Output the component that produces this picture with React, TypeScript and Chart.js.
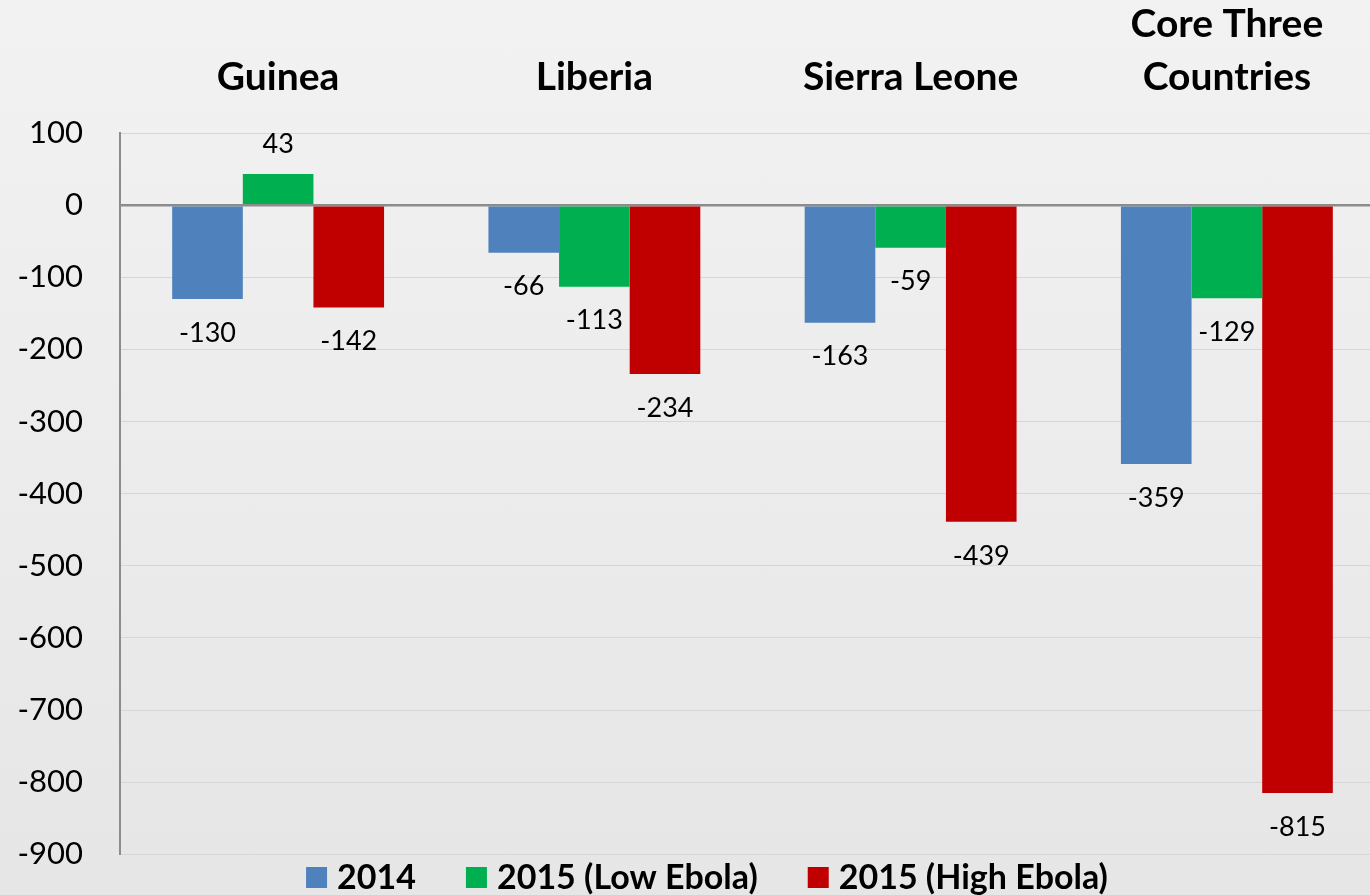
import React, { useEffect, useRef } from "react";
import { Chart, registerables } from "chart.js";

Chart.register(...registerables);

const categories: (string | string[])[] = ["Guinea", "Liberia", "Sierra Leone", ["Core Three", "Countries"]];
const seriesNames = ["2014", "2015 (Low Ebola)", "2015 (High Ebola)"];
const values2014 = [-130, -66, -163, -359];
const valuesLow = [43, -113, -59, -129];
const valuesHigh = [-142, -234, -439, -815];
const seriesColors = ["#4f81bd", "#00b050", "#c00000"];
const yMin = -900;
const yMax = 100;
const yStep = 100;

const FONT = "Lato, 'Open Sans', sans-serif";

const valueLabelPlugin = {
  id: "valueLabels",
  afterDatasetsDraw(chart: any) {
    const ctx = chart.ctx;
    ctx.save();
    ctx.font = `27px ${FONT}`;
    ctx.fillStyle = "#000";
    ctx.textAlign = "center";
    ctx.textBaseline = "middle";
    chart.data.datasets.forEach((ds: any, di: number) => {
      const meta = chart.getDatasetMeta(di);
      meta.data.forEach((el: any, i: number) => {
        const v = ds.data[i];
        const y = v >= 0 ? el.y - 30 : el.y + 34;
        ctx.fillText(String(v), el.x, y);
      });
    });
    ctx.restore();
  },
};

const categoryTitlePlugin = {
  id: "categoryTitles",
  afterDraw(chart: any) {
    const ctx = chart.ctx;
    const xs = chart.scales.x;
    ctx.save();
    ctx.font = `bold 39px ${FONT}`;
    ctx.fillStyle = "#000";
    ctx.textAlign = "center";
    ctx.textBaseline = "alphabetic";
    (chart.data.labels as any[]).forEach((lab: any, i: number) => {
      const lines = Array.isArray(lab) ? lab : [lab];
      const x = xs.getPixelForValue(i);
      const n = lines.length;
      lines.forEach((ln: string, j: number) => {
        const y = 90 - (n - 1 - j) * 53;
        ctx.fillText(ln, x, y);
      });
    });
    ctx.restore();
  },
};

const legendPlugin = {
  id: "customLegend",
  afterDraw(chart: any) {
    const ctx = chart.ctx;
    ctx.save();
    ctx.font = `bold 34px ${FONT}`;
    ctx.textBaseline = "middle";
    ctx.textAlign = "left";
    const box = 21;
    const boxGap = 10;
    const itemGap = 50;
    const items = chart.data.datasets.map((ds: any) => ({
      label: ds.label,
      color: ds.backgroundColor,
      w: ctx.measureText(ds.label).width,
    }));
    const total = items.reduce((s: number, it: any) => s + box + boxGap + it.w, 0) + itemGap * (items.length - 1);
    let x = 707 - total / 2;
    const cy = 877.5;
    items.forEach((it: any) => {
      ctx.fillStyle = it.color;
      ctx.fillRect(x, cy - box / 2, box, box);
      x += box + boxGap;
      ctx.fillStyle = "#000";
      ctx.fillText(it.label, x, cy + 1);
      x += it.w + itemGap;
    });
    ctx.restore();
  },
};

export default function App() {
  const ref = useRef<HTMLCanvasElement>(null);
  useEffect(() => {
    if (!ref.current) return;
    const chart = new Chart(ref.current, {
      type: "bar",
      data: {
        labels: categories as any,
        datasets: [
          { label: seriesNames[0], data: values2014, backgroundColor: seriesColors[0] },
          { label: seriesNames[1], data: valuesLow, backgroundColor: seriesColors[1] },
          { label: seriesNames[2], data: valuesHigh, backgroundColor: seriesColors[2] },
        ],
      },
      options: {
        animation: false,
        responsive: false,
        maintainAspectRatio: false,
        datasets: { bar: { categoryPercentage: 0.67, barPercentage: 1.0 } },
        layout: { padding: { top: 133, right: 5, left: 0, bottom: 27 } },
        plugins: {
          legend: { display: false },
          tooltip: { enabled: false },
        },
        scales: {
          x: { display: false },
          y: {
            min: yMin,
            max: yMax,
            afterFit(scale: any) {
              scale.width = 120;
            },
            ticks: {
              stepSize: yStep,
              color: "#000",
              padding: 37,
              font: { family: FONT, size: 31 },
            },
            grid: {
              drawTicks: false,
              color: (c: any) => (c.tick && c.tick.value === 0 ? "#8c8c8c" : "#d6d6d6"),
              lineWidth: (c: any) => (c.tick && c.tick.value === 0 ? 2.5 : 1),
            },
            border: { display: true, color: "#8c8c8c", width: 2 },
          },
        },
      },
      plugins: [valueLabelPlugin, categoryTitlePlugin, legendPlugin],
    });
    return () => chart.destroy();
  }, []);

  return (
    <div
      style={{
        position: "fixed",
        left: 0,
        top: 0,
        width: 1370,
        height: 895,
        overflow: "hidden",
        background: "linear-gradient(180deg, #f2f2f2 0%, #ececec 50%, #e6e6e6 100%)",
      }}
    >
      <canvas ref={ref} width={1390} height={910} style={{ display: "block" }} />
    </div>
  );
}
